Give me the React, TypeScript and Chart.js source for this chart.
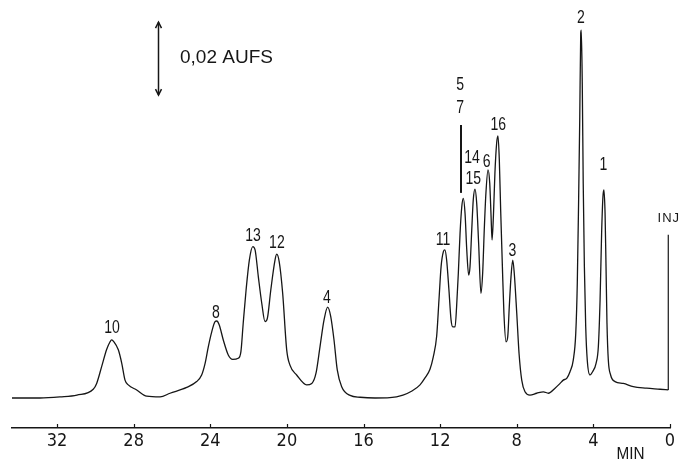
import { useEffect, useRef } from 'react';
import { Chart, registerables } from 'chart.js';

Chart.register(...registerables);

// ---- data (time in minutes, detector signal in mAU; 0.02 AUFS = 20 mAU) ----
const TICK_MINUTES = [0, 4, 8, 12, 16, 20, 24, 28, 32];
const TIME_RANGE_MIN = [0, 34.35];
const SIGNAL_RANGE_MAU = [-8.22, 109.05];

const TRACE_TIME_MIN = [
  34.35, 32.89, 31.84, 30.96, 30.11, 29.93, 29.67, 29.41, 29.23, 29.15,
  29.03, 28.8, 28.62, 28.45, 28.28, 27.84, 27.32, 26.62, 26.1, 25.23,
  24.71, 24.45, 24.27, 24.1, 23.92, 23.75, 23.66, 23.53, 23.32, 23.06,
  22.83, 22.54, 22.4, 22.28, 22.13, 21.96, 21.78, 21.66, 21.49, 21.31,
  21.14, 21.02, 20.84, 20.62, 20.53, 20.4, 20.22, 20.01, 19.84, 19.49,
  18.97, 18.7, 18.48, 18.27, 18.06, 17.87, 17.71, 17.54, 17.37, 17.14,
  16.7, 16.18, 15.4, 14.62, 13.94, 13.47, 13.05, 12.79, 12.53, 12.36,
  12.18, 12.06, 11.95, 11.83, 11.75, 11.66, 11.54, 11.43, 11.34, 11.22,
  11.14, 11.05, 10.96, 10.87, 10.79, 10.7, 10.61, 10.51, 10.44, 10.35,
  10.27, 10.18, 10.09, 9.99, 9.87, 9.78, 9.69, 9.61, 9.5, 9.41,
  9.34, 9.29, 9.22, 9.14, 9.05, 8.98, 8.91, 8.84, 8.75, 8.67,
  8.56, 8.47, 8.39, 8.3, 8.21, 8.13, 8.0, 7.88, 7.74, 7.57,
  7.31, 6.96, 6.61, 6.35, 6.0, 5.74, 5.57, 5.39, 5.22, 5.05,
  4.92, 4.84, 4.77, 4.71, 4.66, 4.63, 4.58, 4.53, 4.47, 4.4,
  4.32, 4.18, 4.04, 3.86, 3.74, 3.65, 3.57, 3.5, 3.45, 3.39,
  3.34, 3.29, 3.22, 3.1, 2.87, 2.44, 1.92, 1.22, 0.52, 0.09,
];

const TRACE_SIGNAL_MAU = [
  0, 0, 0.3, 0.8, 2.4, 4.0, 8.6, 13.3, 15.4, 15.9,
  15.4, 13.2, 9.5, 4.9, 3.6, 2.2, 0.5, 0.3, 1.3, 2.9,
  4.5, 6.3, 9.5, 14.1, 18.2, 20.9, 21.1, 20.0, 15.9, 11.8,
  10.6, 10.9, 12.7, 20.5, 29.6, 37.8, 41.5, 40.6, 33.2, 25.9,
  20.9, 21.8, 29.6, 37.8, 39.4, 37.3, 28.7, 13.2, 9.0, 6.3,
  3.6, 4.0, 6.8, 14.1, 21.4, 24.9, 22.3, 15.9, 7.7, 3.1,
  0.7, 0.2, 0, 0.1, 0.8, 1.9, 3.6, 5.5, 7.9, 11.2,
  17.0, 26.9, 36.0, 40.1, 40.6, 37.8, 29.6, 21.4, 19.5, 19.5,
  25.0, 34.2, 45.1, 52.4, 54.7, 50.6, 40.6, 33.7, 36.0, 46.0,
  54.3, 57.2, 53.3, 42.4, 28.7, 34.2, 46.9, 56.1, 62.5, 58.8,
  49.7, 43.3, 49.7, 61.6, 69.8, 71.8, 65.2, 51.5, 36.0, 23.2,
  15.4, 16.8, 25.0, 33.2, 37.8, 34.2, 23.2, 12.2, 4.9, 1.7,
  0.8, 1.3, 1.7, 1.3, 2.7, 4.0, 4.9, 5.4, 7.2, 10.4,
  17.7, 31.4, 54.3, 77.1, 99.9, 100.8, 86.2, 58.8, 36.0, 19.5,
  10.4, 6.3, 7.2, 9.5, 14.1, 26.9, 45.1, 55.2, 57.0, 50.6,
  36.0, 20.5, 10.4, 6.3, 4.5, 4.0, 3.1, 2.7, 2.4, 2.2,
];

// injection marker (time, from signal, to signal)
const INJ_TIME_MIN = 0.09;
const INJ_SIGNAL_MAU = [2.2, 44.7];
// marker bar above co-eluting peaks 5/7
const MARK57_TIME_MIN = 10.91;
const MARK57_SIGNAL_MAU = [56.2, 74.8];

// peak labels
const PEAK_LABELS = ['10', '8', '13', '12', '4', '11', '5', '7', '14', '15', '6', '16', '3', '2', '1'];
const PEAK_LABEL_TIME_MIN = [29.13, 23.7, 21.77, 20.52, 17.91, 11.85, 10.96, 10.96, 10.33, 10.27, 9.57, 8.96, 8.23, 4.65, 3.48];
const PEAK_LABEL_SIGNAL_MAU = [19.2, 23.3, 44.4, 42.5, 27.4, 43.3, 85.8, 79.5, 65.7, 60.0, 64.7, 74.8, 40.4, 104.0, 63.7];

const INJ_LABEL = 'INJ';
const INJ_LABEL_SIGNAL_MAU = 49.2;

// scale bar 0.02 AUFS
const AUFS_LABEL = '0,02 AUFS';
const AUFS_TIME_MIN = 26.73;
const AUFS_SIGNAL_MAU = [83.0, 103.0];
const AUFS_LABEL_TIME_MIN = 25.58;
const AUFS_LABEL_SIGNAL_MAU = 93.2;

const AXIS_UNIT = 'MIN';
const AXIS_UNIT_TIME_MIN = 2.06;

const INK = '#161616';
const NARROW = '"Liberation Sans Narrow", "DejaVu Sans Condensed", "Liberation Sans", sans-serif';
const REGULAR = '"Liberation Sans", "DejaVu Sans", sans-serif';

function drawCompressed(ctx: CanvasRenderingContext2D, text: string, px: number, py: number, sx: number) {
  ctx.save();
  ctx.translate(px, py);
  ctx.scale(sx, 1);
  ctx.fillText(text, 0, 0);
  ctx.restore();
}

const annotations = {
  id: 'chromAnnotations',
  afterDatasetsDraw(chart: any) {
    const { ctx, chartArea } = chart;
    const x = chart.scales.x;
    const y = chart.scales.y;
    ctx.save();
    ctx.strokeStyle = INK;
    ctx.fillStyle = INK;

    // upward tick marks on the time axis
    ctx.lineWidth = 1.2;
    TICK_MINUTES.forEach((t) => {
      const px = Math.round(x.getPixelForValue(t)) + 0.5;
      ctx.beginPath();
      ctx.moveTo(px, chartArea.bottom);
      ctx.lineTo(px, chartArea.bottom - 4);
      ctx.stroke();
    });

    // peak labels (narrow lettering)
    ctx.font = `18px ${REGULAR}`;
    ctx.textAlign = 'center';
    ctx.textBaseline = 'middle';
    PEAK_LABELS.forEach((lab, i) => {
      drawCompressed(ctx, lab, x.getPixelForValue(PEAK_LABEL_TIME_MIN[i]), y.getPixelForValue(PEAK_LABEL_SIGNAL_MAU[i]), 0.78);
    });

    // INJ label
    ctx.font = `13px ${REGULAR}`;
    (ctx as any).letterSpacing = '1px';
    ctx.fillText(INJ_LABEL, x.getPixelForValue(INJ_TIME_MIN) + 0.5, y.getPixelForValue(INJ_LABEL_SIGNAL_MAU));
    (ctx as any).letterSpacing = '0px';

    // AUFS double arrow
    const ax = Math.round(x.getPixelForValue(AUFS_TIME_MIN)) + 0.5;
    const yTop = y.getPixelForValue(AUFS_SIGNAL_MAU[1]);
    const yBot = y.getPixelForValue(AUFS_SIGNAL_MAU[0]);
    ctx.lineWidth = 1.5;
    ctx.beginPath();
    ctx.moveTo(ax, yTop);
    ctx.lineTo(ax, yBot);
    ctx.stroke();
    ctx.beginPath();
    ctx.moveTo(ax - 3, yTop + 6);
    ctx.lineTo(ax, yTop);
    ctx.lineTo(ax + 3, yTop + 6);
    ctx.moveTo(ax - 3, yBot - 6);
    ctx.lineTo(ax, yBot);
    ctx.lineTo(ax + 3, yBot - 6);
    ctx.stroke();

    ctx.font = `19px ${REGULAR}`;
    ctx.textAlign = 'left';
    ctx.fillText(AUFS_LABEL, x.getPixelForValue(AUFS_LABEL_TIME_MIN), y.getPixelForValue(AUFS_LABEL_SIGNAL_MAU));

    // axis unit
    ctx.font = `17px ${REGULAR}`;
    ctx.textAlign = 'center';
    drawCompressed(ctx, AXIS_UNIT, x.getPixelForValue(AXIS_UNIT_TIME_MIN), chartArea.bottom + 26, 0.9);

    ctx.restore();
  },
};

export default function App() {
  const canvasRef = useRef<HTMLCanvasElement | null>(null);

  useEffect(() => {
    if (!canvasRef.current) return;
    const n = Math.min(TRACE_TIME_MIN.length, TRACE_SIGNAL_MAU.length);
    const trace = [];
    for (let i = 0; i < n; i++) trace.push({ x: TRACE_TIME_MIN[i], y: TRACE_SIGNAL_MAU[i] });

    const chart = new Chart(canvasRef.current, {
      type: 'line',
      data: {
        datasets: [
          {
            data: trace,
            borderColor: INK,
            borderWidth: 1.3,
            pointRadius: 0,
            cubicInterpolationMode: 'monotone',
            fill: false,
          },
          {
            data: INJ_SIGNAL_MAU.map((v) => ({ x: INJ_TIME_MIN, y: v })),
            borderColor: INK,
            borderWidth: 1.2,
            pointRadius: 0,
          },
          {
            data: MARK57_SIGNAL_MAU.map((v) => ({ x: MARK57_TIME_MIN, y: v })),
            borderColor: INK,
            borderWidth: 2,
            pointRadius: 0,
          },
        ],
      },
      options: {
        responsive: false,
        animation: false,
        devicePixelRatio: 1,
        layout: { padding: { left: 12, right: 13, top: 0, bottom: 0 } },
        plugins: { legend: { display: false }, tooltip: { enabled: false }, title: { display: false } },
        scales: {
          x: {
            type: 'linear',
            reverse: true,
            min: TIME_RANGE_MIN[0],
            max: TIME_RANGE_MIN[1],
            afterBuildTicks: (scale: any) => {
              scale.ticks = TICK_MINUTES.map((v) => ({ value: v }));
            },
            afterFit: (scale: any) => {
              scale.height = 33;
            },
            grid: { display: false, drawTicks: false },
            border: { display: true, color: INK, width: 1.6 },
            ticks: {
              color: INK,
              font: { family: NARROW, size: 18 },
              padding: 3,
              maxRotation: 0,
              autoSkip: false,
            },
          },
          y: {
            display: false,
            min: SIGNAL_RANGE_MAU[0],
            max: SIGNAL_RANGE_MAU[1],
          },
        },
      },
      plugins: [annotations],
    } as any);

    return () => chart.destroy();
  }, []);

  return (
    <div style={{ position: 'absolute', left: 0, top: 0, width: 683, height: 461, background: '#fff' }}>
      <canvas ref={canvasRef} width={683} height={461} style={{ display: 'block' }} />
    </div>
  );
}
